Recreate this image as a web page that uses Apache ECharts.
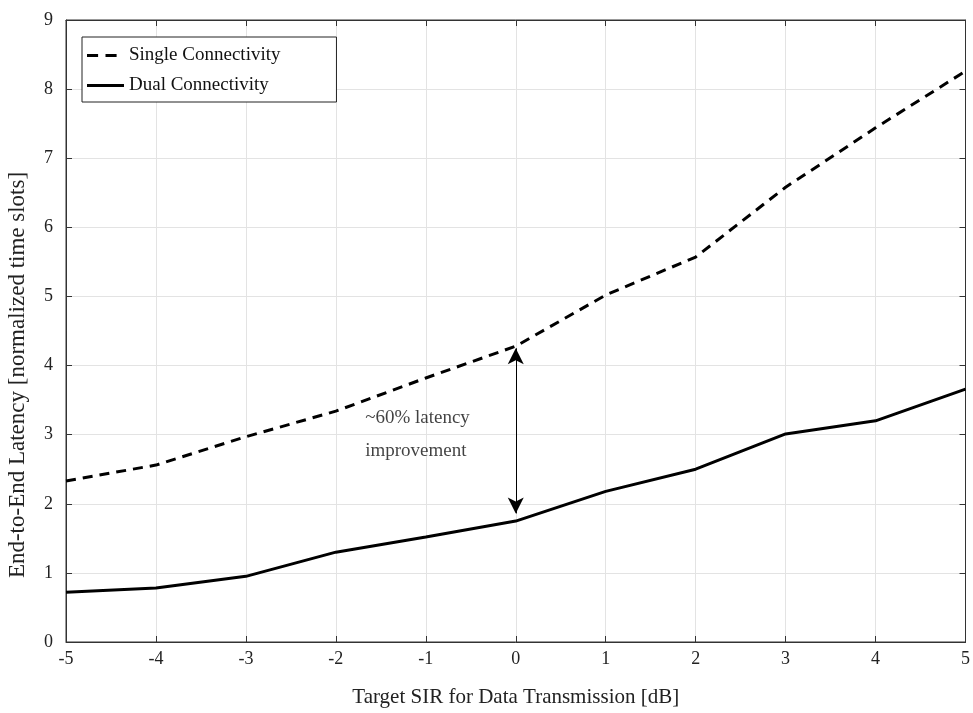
<!DOCTYPE html>
<html><head><meta charset="utf-8">
<script src="https://cdn.jsdelivr.net/npm/echarts@6/dist/echarts.min.js"></script>
<style>html,body{margin:0;padding:0;background:#fff}#c{width:973px;height:713px}</style>
</head><body><div id="c"></div>
<script>
const xValues = [-5,-4,-3,-2,-1,0,1,2,3,4,5];
const singleConn = [2.33,2.56,2.97,3.34,3.82,4.28,5.02,5.57,6.58,7.44,8.26];
const dualConn = [0.72,0.78,0.95,1.30,1.52,1.75,2.18,2.50,3.01,3.20,3.66];
const arrowEnds = [[0,1.86],[0,4.25]];
const noteText = '~60% latency\nimprovement';
const notePos = [-1.68,3.0];
const xTitle = 'Target SIR for Data Transmission [dB]';
const yTitle = 'End-to-End Latency [normalized time slots]';

const font = 'Liberation Serif';
const chart = echarts.init(document.getElementById('c'));
const axisLineStyle = {color:'#333',width:1};
const gridLine = {show:true,lineStyle:{color:'#e3e3e3',width:1}};
chart.setOption({
  animation:false,
  textStyle:{fontFamily:font},
  grid:{left:66,top:20,right:7,bottom:71,show:true,borderColor:'#333',borderWidth:1},
  legend:{
    show:true,
    orient:'vertical',left:82,top:37,
    data:[
      {name:'Single Connectivity',icon:'path://M0,0H12V3H0Z M20,0H32V3H20Z M40,0L40,3'},
      {name:'Dual Connectivity',icon:'path://M0,0H40V3H0Z'}
    ],
    backgroundColor:'#fff',borderColor:'#222',borderWidth:1,
    padding:[9,56,7,5],itemGap:11,itemWidth:37,itemHeight:3,
    textStyle:{fontFamily:font,fontSize:19,color:'#111'}
  },
  xAxis:[{
    type:'value',min:-5,max:5,interval:1,
    name:xTitle,nameLocation:'middle',nameGap:45,
    nameTextStyle:{fontFamily:font,fontSize:21,color:'#222'},
    axisLine:{onZero:false,lineStyle:axisLineStyle},
    axisTick:{inside:true,length:6,lineStyle:{color:'#333'}},
    axisLabel:{fontFamily:font,fontSize:18,color:'#222',margin:8},
    splitLine:gridLine
  },{
    type:'value',position:'top',min:-5,max:5,interval:1,
    axisLine:{onZero:false,lineStyle:axisLineStyle},
    axisTick:{inside:true,length:6,lineStyle:{color:'#333'}},
    axisLabel:{show:false},splitLine:{show:false}
  }],
  yAxis:[{
    type:'value',min:0,max:9,interval:1,
    axisLine:{onZero:false,lineStyle:axisLineStyle},
    axisTick:{inside:true,length:6,lineStyle:{color:'#333'}},
    axisLabel:{fontFamily:font,fontSize:18,color:'#222',margin:13},
    splitLine:gridLine
  },{
    type:'value',position:'right',min:0,max:9,interval:1,
    axisLine:{onZero:false,lineStyle:axisLineStyle},
    axisTick:{inside:true,length:6,lineStyle:{color:'#333'}},
    axisLabel:{show:false},splitLine:{show:false}
  }],
  graphic:[{
    type:'text',x:18,y:375,rotation:Math.PI/2,
    style:{text:yTitle,font:'23px "Liberation Serif"',fill:'#222',align:'center',verticalAlign:'middle'}
  }],
  series:[{
    name:'Single Connectivity',type:'line',
    data:xValues.map((x,i)=>[x,singleConn[i]]),
    symbol:'none',
    lineStyle:{color:'#000',width:3,type:[10,7]},
    itemStyle:{color:'#000'}
  },{
    name:'Dual Connectivity',type:'line',
    data:xValues.map((x,i)=>[x,dualConn[i]]),
    symbol:'none',
    lineStyle:{color:'#000',width:3},
    itemStyle:{color:'#000'},
    markLine:{
      silent:true,symbol:['arrow','arrow'],symbolSize:[12,16],
      label:{show:false},
      lineStyle:{color:'#000',width:1,type:'solid'},
      data:[[{coord:arrowEnds[0]},{coord:arrowEnds[1]}]]
    }
  },{
    name:'note',type:'scatter',
    data:[notePos],
    symbolSize:1,
    itemStyle:{color:'rgba(0,0,0,0)'},
    silent:true,
    label:{show:true,position:'right',distance:0,formatter:noteText,fontFamily:font,fontSize:19,color:'#111',
      align:'left',verticalAlign:'middle',lineHeight:33}
  }]
});
</script></body></html>
